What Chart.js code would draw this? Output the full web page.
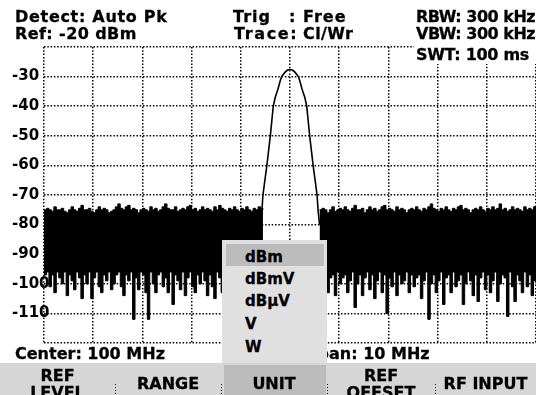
<!DOCTYPE html>
<html>
<head>
<meta charset="utf-8">
<script src="https://cdn.jsdelivr.net/npm/chart.js@4"></script>
<style>
  html, body { margin: 0; padding: 0; background: #fff; }
  #screen {
    position: relative; width: 536px; height: 395px; overflow: hidden; background: #fff;
    font-family: "DejaVu Sans", sans-serif; font-weight: bold; color: #000;
    -webkit-text-stroke: 0.3px #000;
  }
  #plot { position: absolute; left: 0; top: 0; }
  .t { position: absolute; font-size: 16px; line-height: 16px; white-space: pre; z-index: 2; }
  .bar { position: absolute; left: 0; top: 363px; width: 536px; height: 32px; background: #d6d6d6; z-index: 3; }
  .key { position: absolute; top: 0; height: 32px; text-align: center; font-size: 16px; line-height: 17px; }
  .sep { position: absolute; top: 21px; width: 1px; height: 11px;
    background: repeating-linear-gradient(to bottom, #000 0 1px, transparent 1px 3px); }
  .popup { position: absolute; left: 222px; top: 240px; width: 105px; height: 123px; background: #e0e0e0; z-index: 4; }
  .item { position: absolute; left: 23px; font-size: 15px; line-height: 16px; }
</style>
</head>
<body>
<div id="screen">
  <canvas id="plot" width="536" height="395"></canvas>

  <div class="t" style="left:15px;top:9px;letter-spacing:0.7px">Detect: Auto Pk</div>
  <div class="t" style="left:15px;top:26px;letter-spacing:0.4px">Ref: -20 dBm</div>
  <div class="t" style="left:233px;top:9px;letter-spacing:1px">Trig<span style="position:absolute;left:56px">:</span><span style="position:absolute;left:70px">Free</span></div>
  <div class="t" style="left:234px;top:26px;letter-spacing:1.6px">Trace:<span style="position:absolute;left:69px;letter-spacing:0.4px">Cl/Wr</span></div>
  <div class="t" style="left:416px;top:9px;letter-spacing:-0.5px">RBW: 300 kHz</div>
  <div class="t" style="left:416px;top:26px;letter-spacing:-0.5px">VBW: 300 kHz</div>
  <div class="t" style="left:414px;top:46px;width:122px;height:18px;background:#fff;padding-left:2px;letter-spacing:-0.3px"><span style="position:relative;top:1px">SWT: 100 ms</span></div>

  <div class="t" style="left:15px;top:346px">Center: 100 MHz</div>
  <div class="t" style="left:306px;top:346px">Span: 10 MHz</div>

  <div class="popup">
    <div style="position:absolute;left:4px;top:4px;width:98px;height:22px;background:#bcbcbc"></div>
    <div class="item" style="top:9px">dBm</div>
    <div class="item" style="top:31px">dBmV</div>
    <div class="item" style="top:53px">dBµV</div>
    <div class="item" style="top:76px">V</div>
    <div class="item" style="top:99px">W</div>
  </div>

  <div class="bar">
    <div style="position:absolute;left:224px;top:2px;width:102px;height:30px;background:#bcbcbc"></div>
    <div class="key" style="left:0;width:115px;top:4px">REF<br>LEVEL</div>
    <div class="key" style="left:115px;width:106px;top:12px">RANGE</div>
    <div class="key" style="left:221px;width:106px;top:12px">UNIT</div>
    <div class="key" style="left:327px;width:108px;top:4px">REF<br>OFFSET</div>
    <div class="key" style="left:435px;width:101px;top:12px">RF INPUT</div>
    <div class="sep" style="left:115px"></div>
    <div class="sep" style="left:221px"></div>
    <div class="sep" style="left:327px"></div>
    <div class="sep" style="left:435px"></div>
  </div>
</div>

<script>
// =====================
// DATA
// =====================

// frequency axis, MHz (center 100 MHz, span 10 MHz)
const FREQ_MIN = 95;
const FREQ_MAX = 105;
const FREQ_TICK = 1;

// level axis, dBm
const LEVEL_MIN = -120;
const LEVEL_MAX = -20;
const LEVEL_TICK = 10;

// noise floor left of the carrier: sweep start / step in MHz, peak-detector max and min per bin
const LEFT_START = 95.0;
const LEFT_STEP = 0.05;
const leftMax = [
  -75, -74.5, -75, -75.5, -74, -75, -75, -74.5, -75.5, -76,
  -75, -74, -75, -75.5, -74.5, -73.5, -75, -75, -74.5, -75.5,
  -76, -75, -74, -75, -74.5, -75, -76, -75.5, -75, -74,
  -73, -74.5, -75, -74, -73.5, -75, -74.5, -75, -76, -75,
  -74.5, -75, -75.5, -74, -75, -74.5, -75.5, -75, -74, -73,
  -74.5, -75, -75, -74, -75.5, -75, -74.5, -75, -74, -73.5,
  -75, -74.5, -75.5, -75, -74, -75, -74.5, -75, -75.5, -74,
  -75, -73.5, -74.5, -75, -75.5, -74.5, -75, -74, -75, -75.5,
  -74.5, -75, -74, -75, -75.5, -74.5, -75, -74, -74.5, -75
];
const leftMin = [
  -97, -96, -101, -97, -103, -96, -98, -100, -96, -104,
  -97, -99, -102, -96, -98, -105, -97, -100, -96, -105,
  -98, -96, -101, -103, -97, -99, -96, -102, -100, -97,
  -96, -101, -104, -97, -99, -96, -112, -98, -102, -96,
  -97, -103, -112, -96, -100, -103, -97, -96, -101, -98,
  -103, -96, -107, -97, -99, -102, -96, -104, -98, -96,
  -101, -103, -97, -100, -96, -99, -104, -97, -101, -105,
  -96, -98, -103, -97, -100, -102, -96, -104, -98, -97,
  -102, -96, -100, -98, -104, -97, -96, -101, -99, -97
];

// noise floor right of the carrier
const RIGHT_START = 100.6;
const RIGHT_STEP = 0.05;
const rightMax = [
  -75, -74.5, -75, -76, -75, -74, -75.5, -75, -74.5, -75,
  -74, -75, -75.5, -74.5, -73.5, -75, -75, -74.5, -76, -75,
  -74, -75, -74.5, -75.5, -75, -74, -73.5, -75, -74.5, -75,
  -75.5, -74, -75, -74.5, -75, -76, -75, -74.5, -75, -74,
  -75, -75.5, -74.5, -75, -74, -73, -74.5, -75, -75.5, -74.5,
  -75, -74, -75, -75.5, -74.5, -75, -74, -73.5, -75, -74.5,
  -75, -76, -75, -74.5, -75, -74, -75, -75.5, -74.5, -75,
  -74, -75, -74.5, -73, -75, -74.5, -75.5, -75, -74, -75,
  -74.5, -75, -75.5, -74, -75, -74.5, -75, -74, -74.5
];
const rightMin = [
  -97, -101, -96, -103, -98, -97, -104, -96, -100, -98,
  -97, -103, -99, -96, -108, -100, -97, -104, -98, -96,
  -102, -97, -105, -99, -96, -103, -97, -110, -98, -101,
  -96, -104, -97, -100, -99, -96, -103, -97, -101, -98,
  -97, -105, -99, -96, -112, -100, -97, -103, -99, -96,
  -107, -98, -97, -103, -96, -101, -99, -97, -107, -100,
  -96, -99, -104, -97, -106, -98, -96, -102, -97, -103,
  -99, -96, -106, -100, -97, -98, -111, -96, -101, -106,
  -97, -99, -103, -96, -101, -97, -104, -99, -96
];

// carrier trace
const sigFreq = [
  99.40, 99.43, 99.45, 99.49, 99.53, 99.565, 99.60, 99.63, 99.66, 99.70,
  99.75, 99.80, 99.83, 99.90, 99.95, 100.0,
  100.05, 100.10, 100.17, 100.20, 100.25, 100.30, 100.34, 100.37, 100.40,
  100.435, 100.47, 100.51, 100.55, 100.57, 100.60
];
const sigLevel = [
  -80, -75, -70, -65, -60, -55, -50, -45, -40, -37,
  -34.5, -31.5, -30, -28.5, -27.8, -27.6,
  -27.8, -28.5, -30, -31.5, -34.5, -37, -40, -45, -50,
  -55, -60, -65, -70, -75, -80
];


// =====================
// HELPERS
// =====================

function sweep(start, step, vals) {
  return vals.map((v, i) => ({ x: +(start + i * step).toFixed(3), y: v }));
}

function noiseSet(data, fill) {
  return {
    data: data,
    stepped: true,
    borderColor: "#000",
    backgroundColor: "#000",
    borderWidth: 1,
    pointRadius: 0,
    fill: fill
  };
}

const FONT = "'DejaVu Sans', sans-serif";

// level labels like "-110" run past the axis edge into the plot, as on the instrument;
// widen the label clip box after layout so they are not cut off
const labelOverflow = {
  id: "labelOverflow",
  afterLayout(chart) {
    chart.scales.y.right += 10;
  }
};


// =====================
// CHART
// =====================

new Chart(document.getElementById("plot"), {
  type: "line",
  data: {
    datasets: [
      noiseSet(sweep(LEFT_START, LEFT_STEP, leftMax), "+1"),
      noiseSet(sweep(LEFT_START, LEFT_STEP, leftMin), false),
      noiseSet(sweep(RIGHT_START, RIGHT_STEP, rightMax), "+1"),
      noiseSet(sweep(RIGHT_START, RIGHT_STEP, rightMin), false),
      {
        data: sigFreq.map((f, i) => ({ x: f, y: sigLevel[i] })),
        borderColor: "#000",
        borderWidth: 1.6,
        pointRadius: 0,
        tension: 0,
        fill: false
      }
    ]
  },
  options: {
    responsive: false,
    animation: false,
    devicePixelRatio: 1,
    layout: { padding: { left: 12, top: 47, right: 0, bottom: 52 } },
    plugins: { legend: { display: false }, tooltip: { enabled: false } },
    scales: {
      x: {
        type: "linear",
        min: FREQ_MIN,
        max: FREQ_MAX,
        ticks: { display: false, stepSize: FREQ_TICK },
        grid: { color: "#000", lineWidth: 1.5, drawTicks: false },
        border: { display: false, dash: [1.5, 1.8] },
        afterFit: s => { s.height = 0; }
      },
      y: {
        min: LEVEL_MIN,
        max: LEVEL_MAX,
        ticks: {
          stepSize: LEVEL_TICK,
          crossAlign: "far",
          padding: 0,
          color: "#000",
          font: { family: FONT, size: 15, weight: "bold" },
          callback: v => (v === LEVEL_MIN || v === LEVEL_MAX) ? "" : String(v)
        },
        grid: { color: "#000", lineWidth: 1.5, drawTicks: false },
        border: { display: false, dash: [1.5, 1.8] },
        afterFit: s => { s.width = 32; }
      }
    }
  },
  plugins: [labelOverflow]
});
</script>
</body>
</html>
